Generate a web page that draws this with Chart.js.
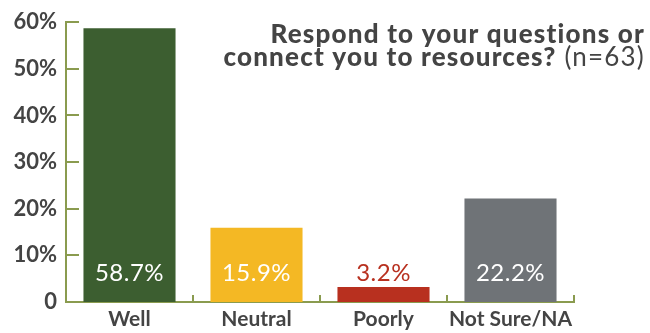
<!DOCTYPE html>
<html lang="en">
<head>
  <meta charset="UTF-8" />
  <title>Respond to your questions</title>
  <script src="https://cdn.jsdelivr.net/npm/chart.js"></script>
  <style>
    html, body { margin: 0; padding: 0; background: #fff; }
    #wrap { width: 650px; height: 333px; }
  </style>
</head>
<body>
  <div id="wrap"><canvas id="chart" width="650" height="333"></canvas></div>

  <script>
    const categories = ['Well', 'Neutral', 'Poorly', 'Not Sure/NA'];
    const values = [58.7, 15.9, 3.2, 22.2];
    const barColors = ['#3c5e30', '#f4b824', '#b8301f', '#6f7377'];
    const yTicks = [0, 10, 20, 30, 40, 50, 60];
    const titleBold = ['Respond to your questions or', 'connect you to resources?'];
    const titleNote = '(n=63)';

    const axisColor = '#8a9b4f';
    const textColor = '#444';
    const fontFamily = 'Lato, "Noto Sans", sans-serif';

    // short tick marks drawn inside the plot, plus value labels and the title
    const decorations = {
      id: 'decorations',
      afterDraw(chart) {
        const { ctx, chartArea } = chart;
        const x = chart.scales.x, y = chart.scales.y;
        ctx.save();
        ctx.strokeStyle = axisColor;
        ctx.lineWidth = 2;
        ctx.beginPath();
        yTicks.forEach(v => {
          if (v === 0) return;
          const py = Math.round(y.getPixelForValue(v));
          ctx.moveTo(chartArea.left, py);
          ctx.lineTo(chartArea.left + 13, py);
        });
        const half = (x.getPixelForValue(1) - x.getPixelForValue(0)) / 2;
        categories.forEach((c, i) => {
          const px = Math.round(x.getPixelForValue(i) + half);
          ctx.moveTo(px, chartArea.bottom);
          ctx.lineTo(px, chartArea.bottom - 7);
        });
        ctx.stroke();

        // value labels sit on a common line near the base
        ctx.font = '24px ' + fontFamily;
        ctx.letterSpacing = '0.5px';
        ctx.textAlign = 'center';
        ctx.textBaseline = 'middle';
        const meta = chart.getDatasetMeta(0);
        const labelY = chartArea.bottom - 29;
        meta.data.forEach((bar, i) => {
          const inside = bar.y < labelY - 14;
          ctx.fillStyle = inside ? '#fff' : barColors[i];
          ctx.fillText(values[i].toFixed(1) + '%', bar.x, labelY);
        });

        // title, right aligned
        const right = 645;
        ctx.textAlign = 'right';
        ctx.textBaseline = 'alphabetic';
        ctx.fillStyle = textColor;
        ctx.letterSpacing = '1.2px';
        ctx.font = '900 26px ' + fontFamily;
        ctx.fillText(titleBold[0], right, 43);
        ctx.font = '26px ' + fontFamily;
        const noteW = ctx.measureText(' ' + titleNote).width;
        ctx.fillText(titleNote, right, 66);
        ctx.font = '900 26px ' + fontFamily;
        ctx.fillText(titleBold[1], right - noteW, 66);
        ctx.restore();
      }
    };

    new Chart(document.getElementById('chart').getContext('2d'), {
      type: 'bar',
      data: {
        labels: categories,
        datasets: [{
          data: values,
          backgroundColor: barColors,
          borderWidth: 0,
          categoryPercentage: 0.725,
          barPercentage: 1
        }]
      },
      options: {
        responsive: false,
        animation: false,
        layout: { padding: { left: 0, right: 76, top: 14, bottom: 0 } },
        plugins: { legend: { display: false }, tooltip: { enabled: false } },
        scales: {
          x: {
            grid: { display: false, drawTicks: false },
            border: { display: true, color: axisColor, width: 2 },
            ticks: {
              color: textColor,
              padding: 5,
              autoSkip: false,
              maxRotation: 0,
              minRotation: 0,
              font: { family: fontFamily, size: 21, weight: 'bold' }
            },
            afterFit(s) { s.height = 31; }
          },
          y: {
            min: 0,
            max: 60,
            grid: { display: false, drawTicks: false },
            border: { display: true, color: axisColor, width: 2 },
            ticks: {
              stepSize: 10,
              color: textColor,
              padding: 9,
              font: { family: fontFamily, size: 22, weight: 'bold' },
              callback: v => (v === 0 ? '0' : v + '%')
            },
            afterFit(s) { s.width = 66; }
          }
        }
      },
      plugins: [decorations]
    });
  </script>
</body>
</html>
